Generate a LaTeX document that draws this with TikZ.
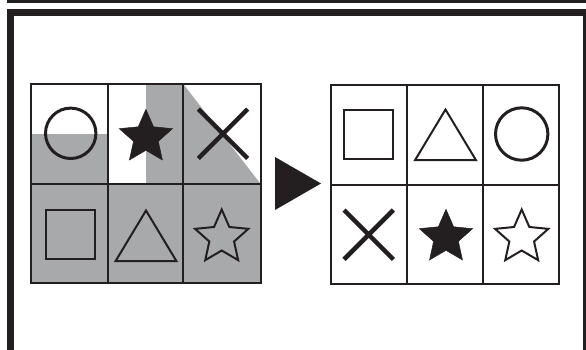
\documentclass[tikz,border=0pt]{standalone}
\usetikzlibrary{calc}
\definecolor{ink}{RGB}{35,31,32}
\definecolor{greyfill}{RGB}{168,169,171}
\tikzset{
  gridline/.style={draw=ink, line width=2.3pt},
  shapeline/.style={draw=ink, line width=2pt, line join=miter},
  crossline/.style={draw=ink, line width=4.5pt},
  ringline/.style={draw=ink, line width=3pt},
  pics/fivestar/.style={code={
    \path[pic actions] (-90:28)
      \foreach \i in {1,...,9}{ -- ({-90+36*\i}:{mod(\i,2)==1 ? 13 : 28}) } -- cycle;
  }},
  pics/xmark/.style={code={
    \path[pic actions] (-24.7,-24.7) -- (24.7,24.7) (-24.7,24.7) -- (24.7,-24.7);
  }}
}
\begin{document}
\begin{tikzpicture}[x=1pt,y=-1pt]
\useasboundingbox (0,0) rectangle (586,349);
\clip (0,0) rectangle (586,349);
% top band and frame
\fill[ink] (7.3,-5) rectangle (600,2.6);
\draw[ink, line width=7pt] (10.8,12.5) rectangle (586.8,400);

% ---------- left grid ----------
\fill[greyfill] (31,134) rectangle (107.7,184);
\fill[greyfill] (146,84) rectangle (183.3,184);
\fill[greyfill] (183.3,84) -- (260.7,184) -- (183.3,184) -- cycle;
\fill[greyfill] (31,184) rectangle (260.7,283);
\draw[gridline] (31,84) rectangle (260.7,283);
\draw[gridline] (107.7,84) -- (107.7,283) (183.3,84) -- (183.3,283) (31,184) -- (260.7,184);

\draw[ringline] (70.7,133.3) circle (25.2);
\pic[fill=ink, draw=ink, line width=0.5pt] at (145.9,137.3) {fivestar};
\pic[crossline] at (223,133.8) {xmark};
\draw[shapeline] (46,210.3) rectangle (95,259);
\draw[shapeline] (146,210.5) -- (176.5,261.2) -- (115.5,261.2) -- cycle;
\pic[shapeline] at (221.7,237.5) {fivestar};

% ---------- arrow ----------
\fill[ink] (275,157) -- (321,183.5) -- (275,210) -- cycle;

% ---------- right grid ----------
\draw[gridline] (331,85) rectangle (559,284);
\draw[gridline] (407,85) -- (407,284) (483,85) -- (483,284) (331,185) -- (559,185);

\draw[shapeline] (343.7,110) rectangle (393,159);
\draw[shapeline] (445.5,109.5) -- (476,160.2) -- (415,160.2) -- cycle;
\draw[ringline] (521.7,134) circle (26.2);
\pic[crossline] at (368.7,234.7) {xmark};
\pic[fill=ink, draw=ink, line width=0.5pt] at (446,237.3) {fivestar};
\pic[shapeline] at (521.7,237.5) {fivestar};
\end{tikzpicture}
\end{document}
